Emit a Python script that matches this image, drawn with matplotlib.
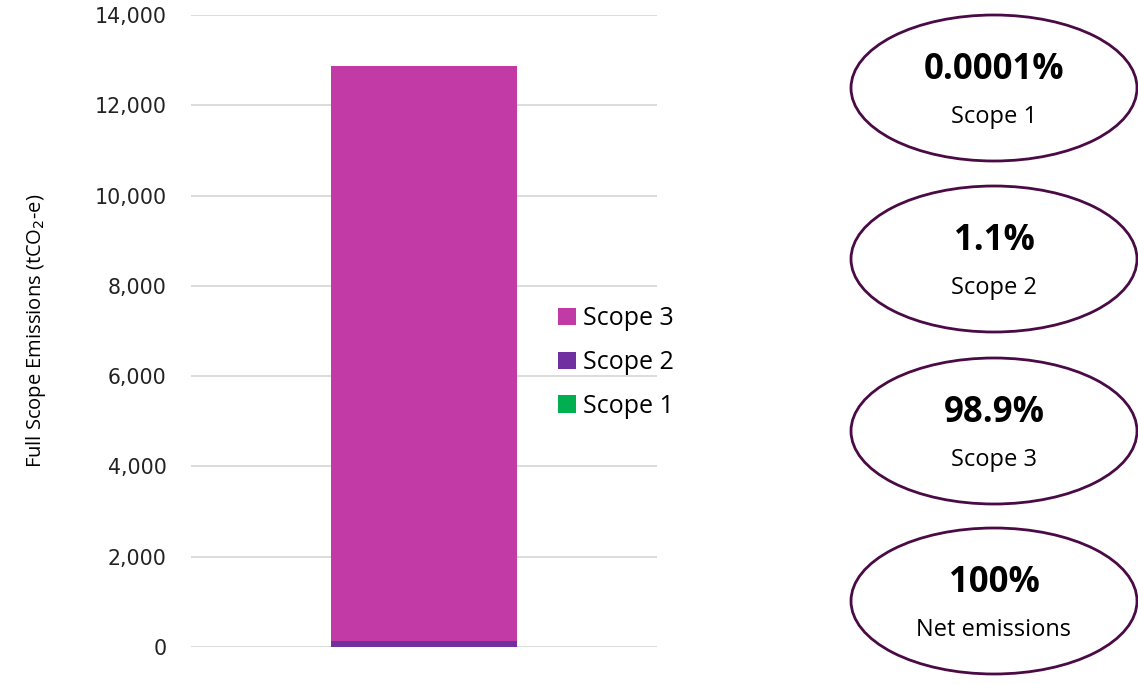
import matplotlib.pyplot as plt
from matplotlib.patches import Ellipse

plt.rcParams["font.family"] = ["Open Sans", "DejaVu Sans"]

# data
scopes = ["Scope 1", "Scope 2", "Scope 3"]
values = [0.013, 141, 12729]
colors = ["#00b050", "#7030a0", "#c23aa6"]
yticks = list(range(0, 14001, 2000))
pct_labels = ["0.0001%", "1.1%", "98.9%", "100%"]
pct_names = ["Scope 1", "Scope 2", "Scope 3", "Net emissions"]

fig = plt.figure(figsize=(11.38, 6.84), dpi=100)
ax = fig.add_axes([191 / 1138, 1 - 647 / 684, 466 / 1138, 632 / 684])

bottom = 0
for name, v, c in zip(scopes, values, colors):
    ax.bar(0, v, width=0.4, bottom=bottom, color=c, label=name, zorder=3)
    bottom += v

ax.set_xlim(-0.5, 0.5)
ax.set_ylim(0, 14000)
ax.set_yticks(yticks, labels=[f"{t:,}" for t in yticks],
              fontfamily="DejaVu Sans", fontsize=14.8, color="#222222")
ax.set_xticks([])
ax.grid(axis="y", color="#d9d9d9", linewidth=1.3, zorder=0)
for s in ax.spines.values():
    s.set_visible(False)
ax.tick_params(axis="y", length=0, pad=17.5)
ax.set_ylabel("Full Scope Emissions (tCO$_2$-e)", fontsize=14.5)
ax.yaxis.set_label_coords(-0.307, 0.5)

h, l = ax.get_legend_handles_labels()
leg = ax.legend(h[::-1], l[::-1], loc="center left", bbox_to_anchor=(0.74, 0.45),
                frameon=False, fontsize=18, handlelength=0.7, handleheight=0.7,
                handletextpad=0.3, labelspacing=0.75)

# ellipses on the right
centers_y = [88, 259, 431, 601]
for cy, pct, nm in zip(centers_y, pct_labels, pct_names):
    fx = 994 / 1138
    fy = 1 - cy / 684
    e = Ellipse((fx, fy), 286 / 1138, 146 / 684, transform=fig.transFigure,
                facecolor="white", edgecolor="#4a0a45", linewidth=2)
    fig.patches.append(e)
    fig.text(fx, fy + 18 / 684, pct, ha="center", va="center",
             fontsize=25, fontweight="bold")
    fig.text(fx, fy - 29 / 684, nm, ha="center", va="center", fontsize=17)

fig.savefig("out.png", dpi=100)
